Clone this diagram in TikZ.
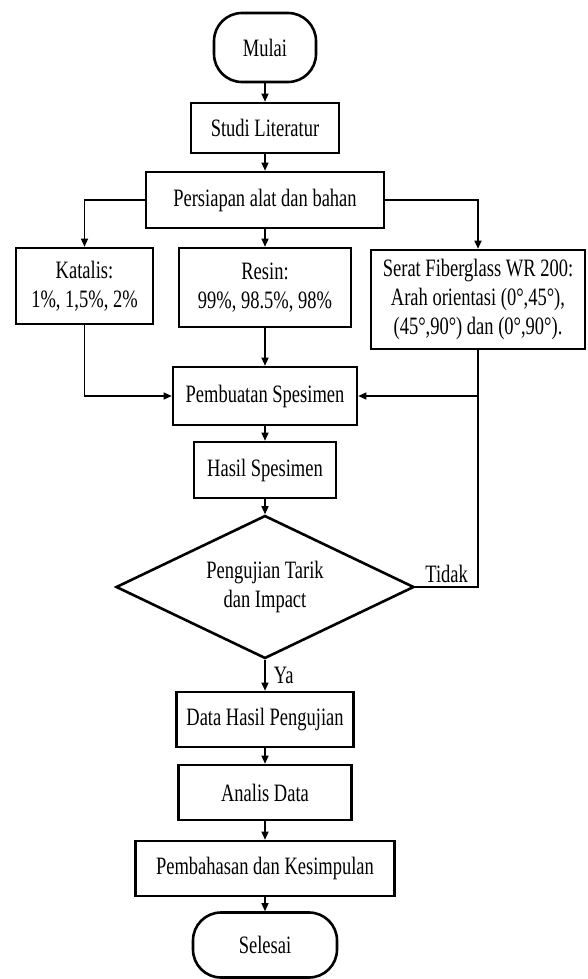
\documentclass[tikz,border=0pt]{standalone}
\usepackage{fontspec}
\setmainfont{Liberation Serif}[FakeStretch=0.74]
\usetikzlibrary{shapes.geometric,arrows.meta}

\begin{document}
\begin{tikzpicture}[x=1pt,y=-1pt,
    box/.style={draw,line width=2.6pt,inner sep=0pt,align=center,
      font=\fontsize{25}{29}\selectfont},
    ujung/.style={box,rounded corners=28pt},
    cek/.style={box,diamond,aspect=2.08},
    panah/.style={line width=1.3pt,-{Triangle[length=8pt,width=7pt]}},
    garis/.style={line width=1.3pt}]
            \useasboundingbox (0,0) rectangle (587,979);

            \node[ujung,minimum width=102pt,minimum height=69pt] (mulai) at (265,47.5) {Mulai};
            \node[box,minimum width=148pt,minimum height=50pt] (studi) at (265,128) {Studi Literatur};
            \node[box,minimum width=238pt,minimum height=56pt] (siap) at (265,200) {Persiapan alat dan bahan};
            \node[box,minimum width=137pt,minimum height=76pt] (katalis) at (84.5,286) {Katalis:\\1\%, 1,5\%, 2\%};
            \node[box,minimum width=172pt,minimum height=79pt] (resin) at (265,287.5) {Resin:\\99\%, 98.5\%, 98\%};
            \node[box,minimum width=214pt,minimum height=99pt] (serat) at (478,299.5) {Serat Fiberglass WR 200:\\Arah orientasi (0°,45°),\\(45°,90°) dan (0°,90°).};
            \node[box,minimum width=184pt,minimum height=58pt] (buat) at (265,396) {Pembuatan Spesimen};
            \node[box,minimum width=142pt,minimum height=56pt] (hasil) at (265,470) {Hasil Spesimen};
            \node[cek,minimum width=298pt,minimum height=143pt] (uji) at (265,587) {Pengujian Tarik\\dan Impact};
            \node[box,minimum width=177pt,minimum height=55pt] (data) at (265,719.5) {Data Hasil Pengujian};
            \node[box,minimum width=173pt,minimum height=55pt] (analis) at (265,792.5) {Analis Data};
            \node[box,minimum width=259pt,minimum height=55pt] (bahas) at (265,868.5) {Pembahasan dan Kesimpulan};
            \node[ujung,minimum width=144pt,minimum height=65pt] (selesai) at (265,945) {Selesai};
            \coordinate (balik) at (serat.south |- buat.east);

            \draw[panah] (mulai) to (studi);
            \draw[panah] (studi) to (siap);
            \draw[panah] (siap.west) -| (katalis.north);
            \draw[panah] (siap) to (resin);
            \draw[panah] (siap.east) -| (serat.north);
            \draw[panah] (katalis.south) |- (buat.west);
            \draw[panah] (resin) to (buat);
            \draw[garis] (serat.south) to (balik);
            \draw[panah] (uji.east) -| node[pos=0.25,above,font=\fontsize{25}{29}\selectfont]{Tidak} (balik) -- (buat.east);
            \draw[panah] (buat) to (hasil);
            \draw[panah] (hasil) to (uji);
            \draw[panah] (uji) to node[right=5pt,font=\fontsize{25}{29}\selectfont]{Ya} (data);
            \draw[panah] (data) to (analis);
            \draw[panah] (analis) to (bahas);
            \draw[panah] (bahas) to (selesai);
          \end{tikzpicture}
\end{document}
